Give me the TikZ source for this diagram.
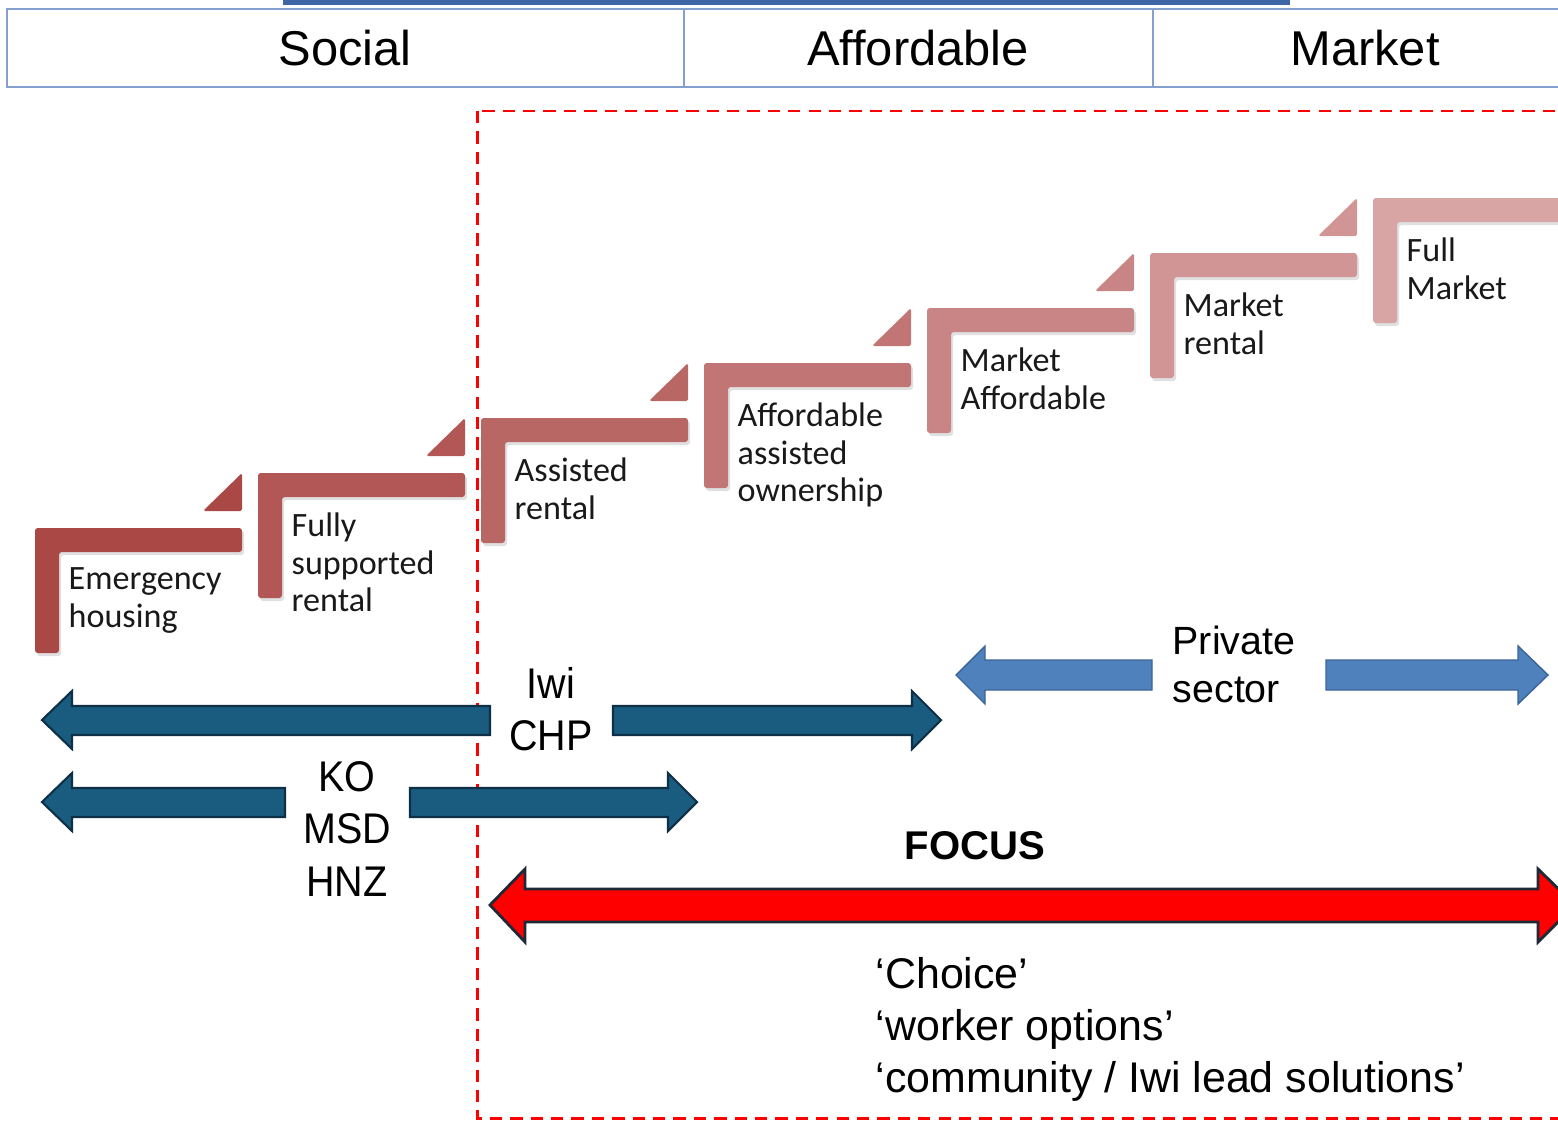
\documentclass[tikz,border=0pt]{standalone}
\usepackage{fontspec}
\usepackage{xcolor}
\setmainfont{Liberation Sans}
\newfontfamily\stepfont{Carlito}
\newfontfamily\narrowfont[FakeStretch=0.92]{Liberation Sans}

\definecolor{stepdark}{RGB}{170,72,70}
\definecolor{steplight}{RGB}{216,164,164}
\definecolor{tableline}{RGB}{132,160,208}
\definecolor{topbar}{RGB}{62,102,166}
\definecolor{govblue}{RGB}{26,92,128}
\definecolor{govline}{RGB}{14,48,70}
\definecolor{privblue}{RGB}{79,129,189}
\definecolor{privline}{RGB}{60,100,150}
\definecolor{focusline}{RGB}{30,40,55}

\tikzset{
  cell/.style={inner sep=0pt, font=\fontsize{13.9}{16}\selectfont},
  steplabel/.style={anchor=north west, align=left, inner sep=0pt,
    text=black!90, font=\stepfont\fontsize{9.7}{10.7}\selectfont},
  stepshadow/.style={fill=black, opacity=0.12},
  govarrow/.style={fill=govblue, draw=govline, line width=0.6pt},
  privarrow/.style={fill=privblue, draw=privline, line width=0.4pt},
  focusarrow/.style={fill=red, draw=focusline, line width=0.8pt},
  agency/.style={align=center, inner sep=0pt,
    font=\narrowfont\fontsize{12.2}{14.8}\selectfont},
  sector/.style={align=left, inner sep=0pt, anchor=west,
    font=\fontsize{11.2}{13.7}\selectfont},
  quotes/.style={align=left, inner sep=0pt, anchor=west,
    font=\fontsize{12.2}{14.8}\selectfont},
  focusdash/.style={red, line width=0.85pt, dash pattern=on 3.5pt off 2.3pt}
}

\begin{document}
\begin{tikzpicture}[x=0.01cm, y=-0.01cm]
  \useasboundingbox (0,0) rectangle (1558,1121);
  \clip (0,0) rectangle (1558,1121);

  % bands along the top
  \fill [topbar] (283,-5) rectangle (1290,5);
  \draw [tableline, line width=0.6pt] (7,9) rectangle (1600,87);
  \draw [tableline, line width=0.6pt] (684,9) -- (684,87) (1153,9) -- (1153,87);
  \node [cell] (social) at (345,48) {Social};
  \node [cell] (affordable) at (918,48) {Affordable};
  \node [cell] (market) at (1365,48) {Market};

  % focus area
  \draw [focusdash] (477,111) rectangle (1600,1118);

  % the steps
  \foreach \i/\lbl in {0/{Emergency\\housing}, 1/{Fully\\supported\\rental},
      2/{Assisted\\rental}, 3/{Affordable\\assisted\\ownership},
      4/{Market\\Affordable}, 5/{Market\\rental}, 6/{Full\\Market}} {
    \pgfmathsetmacro\sx{35+223*\i}
    \pgfmathsetmacro\sy{528-55*\i}
    \pgfmathsetmacro\pct{100-\i*100/6}
    \colorlet{stepfill}{stepdark!\pct!steplight}
    \fill [stepshadow, shift={(2,3)}, rounded corners=0.8pt]
      (\sx,\sy) -- (\sx+207,\sy) -- (\sx+207,\sy+24) -- (\sx+24,\sy+24)
      -- (\sx+24,\sy+125) -- (\sx,\sy+125) -- cycle;
    \fill [stepfill, rounded corners=0.8pt]
      (\sx,\sy) -- (\sx+207,\sy) -- (\sx+207,\sy+24) -- (\sx+24,\sy+24)
      -- (\sx+24,\sy+125) -- (\sx,\sy+125) -- cycle;
    \ifnum\i<6
      \fill [stepfill, rounded corners=0.5pt]
        (\sx+168,\sy-17) -- (\sx+207,\sy-55) -- (\sx+207,\sy-17) -- cycle;
    \fi
    \node [steplabel] (lbl\i) at (\sx+33,\sy+39) {\lbl};
  }

  % Iwi / CHP
  \draw [govarrow] (490,706) -- (72,706) -- (72,691) -- (42,720) -- (72,749) -- (72,735) -- (490,735) -- cycle;
  \draw [govarrow] (613,706) -- (912,706) -- (912,691) -- (941,720) -- (912,749) -- (912,735) -- (613,735) -- cycle;
  \node [agency] (iwi) at (551,709) {Iwi\\CHP};

  % KO / MSD / HNZ
  \draw [govarrow] (285,788) -- (72,788) -- (72,773) -- (42,802) -- (72,831) -- (72,817) -- (285,817) -- cycle;
  \draw [govarrow] (410,788) -- (668,788) -- (668,773) -- (697,802) -- (668,831) -- (668,817) -- (410,817) -- cycle;
  \node [agency] (ko) at (347,829) {KO\\MSD\\HNZ};

  % private sector
  \draw [privarrow] (1152,660) -- (985,660) -- (985,646) -- (956,675) -- (985,704) -- (985,690) -- (1152,690) -- cycle;
  \draw [privarrow] (1326,660) -- (1518,660) -- (1518,646) -- (1548,675) -- (1518,704) -- (1518,690) -- (1326,690) -- cycle;
  \node [sector] (private) at (1172,664) {Private\\sector};

  % focus
  \node [font=\bfseries\fontsize{11.4}{13}\selectfont, inner sep=0pt] (focus) at (975,846) {FOCUS};
  \draw [focusarrow] (525,889) -- (525,869) -- (490,905) -- (525,942) -- (525,922)
    -- (1538,922) -- (1538,942) -- (1575,905) -- (1538,869) -- (1538,889) -- cycle;
  \node [quotes] (choice) at (875,1029)
    {‘Choice’\\‘worker options’\\‘community / Iwi lead solutions’};
\end{tikzpicture}
\end{document}
